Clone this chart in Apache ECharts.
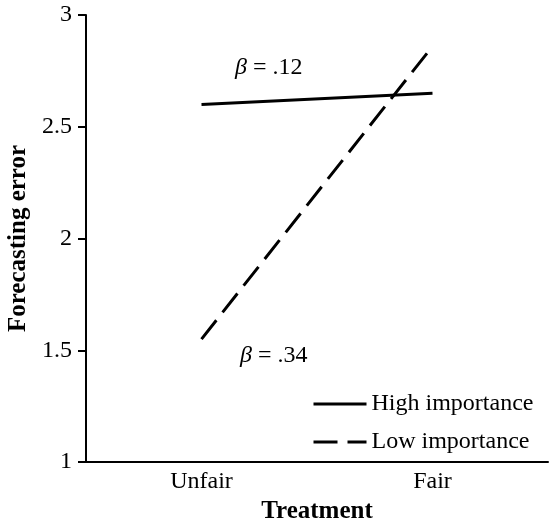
<!DOCTYPE html>
<html>
<head>
<meta charset="utf-8">
<script src="https://cdn.jsdelivr.net/npm/echarts@6/dist/echarts.min.js"></script>
<style>html,body{margin:0;padding:0;background:#fff;}#c{width:551px;height:521px;}</style>
</head>
<body>
<div id="c"></div>
<script>
var categories = ['Unfair', 'Fair'];
var highImportance = [2.60, 2.65];
var lowImportance = [1.55, 2.86];
var yTicks = [1, 1.5, 2, 2.5, 3];
var seriesNames = ['High importance', 'Low importance'];
var annotations = ['.12', '.34'];

var FONT = "'Liberation Serif', 'Times New Roman', serif";
var chart = echarts.init(document.getElementById('c'), null, {renderer: 'canvas'});
var option = {
  animation: false,
  backgroundColor: '#fff',
  textStyle: {fontFamily: FONT, color: '#000'},
  grid: {left: 86, right: 3, top: 15, bottom: 59, containLabel: false, outerBoundsMode: 'none'},
  xAxis: {
    type: 'category',
    data: categories,
    boundaryGap: true,
    name: 'Treatment',
    nameLocation: 'middle',
    nameGap: 27,
    nameTextStyle: {fontFamily: FONT, fontWeight: 'bold', fontSize: 25, color: '#000'},
    axisLine: {lineStyle: {color: '#000', width: 2}},
    axisTick: {show: false},
    axisLabel: {fontFamily: FONT, fontSize: 24, color: '#000', margin: 8},
    splitLine: {show: false}
  },
  yAxis: {
    type: 'value',
    min: yTicks[0],
    max: yTicks[yTicks.length - 1],
    interval: 0.5,
    name: 'Forecasting error',
    nameLocation: 'middle',
    nameGap: 55,
    nameTextStyle: {fontFamily: FONT, fontWeight: 'bold', fontSize: 25, color: '#000'},
    axisLine: {show: true, lineStyle: {color: '#000', width: 2}},
    axisTick: {show: true, length: 8, lineStyle: {color: '#000', width: 2}},
    axisLabel: {fontFamily: FONT, fontSize: 24, color: '#000', margin: 14},
    splitLine: {show: false}
  },
  legend: {
    orient: 'vertical',
    left: 307,
    top: 387,
    itemWidth: 53,
    itemHeight: 14,
    itemGap: 14,
    data: seriesNames,
    itemStyle: {opacity: 0},
    lineStyle: {width: 3, color: '#000'},
    textStyle: {fontFamily: FONT, fontSize: 24, color: '#000'}
  },
  series: [
    {
      name: seriesNames[0], type: 'line', data: highImportance, symbol: 'none',
      itemStyle: {color: '#000'},
      lineStyle: {color: '#000', width: 3, type: 'solid'}
    },
    {
      name: seriesNames[1], type: 'line', data: lowImportance, symbol: 'none',
      itemStyle: {color: '#000'},
      lineStyle: {color: '#000', width: 3, type: [24, 10]}
    }
  ],
  graphic: [
    {type: 'text', left: 235, top: 56, style: {
      text: '{b|β} = ' + annotations[0], font: '24px ' + FONT, fill: '#000',
      rich: {b: {fontStyle: 'italic', fontFamily: FONT, fontSize: 24}}
    }},
    {type: 'text', left: 240, top: 344, style: {
      text: '{b|β} = ' + annotations[1], font: '24px ' + FONT, fill: '#000',
      rich: {b: {fontStyle: 'italic', fontFamily: FONT, fontSize: 24}}
    }}
  ]
};
chart.setOption(option);
</script>
</body>
</html>
